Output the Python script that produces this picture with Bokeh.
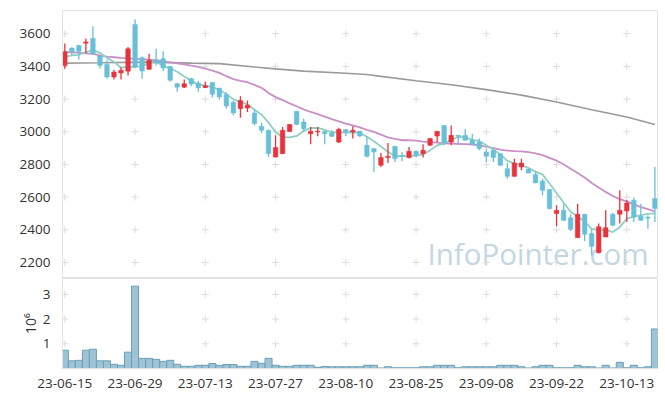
from bokeh.plotting import figure
from bokeh.layouts import column
from bokeh.models import Range1d, FixedTicker, ColumnDataSource
from bokeh.core.properties import value
from bokeh.embed import file_html
from bokeh.resources import INLINE

dates = ["23-06-15", "23-06-16", "23-06-19", "23-06-20", "23-06-21", "23-06-22", "23-06-23",
         "23-06-26", "23-06-27", "23-06-28", "23-06-29", "23-06-30",
         "23-07-03", "23-07-04", "23-07-05", "23-07-06", "23-07-07",
         "23-07-10", "23-07-11", "23-07-12", "23-07-13", "23-07-14",
         "23-07-17", "23-07-18", "23-07-19", "23-07-20", "23-07-21",
         "23-07-24", "23-07-25", "23-07-26", "23-07-27", "23-07-28", "23-07-31",
         "23-08-01", "23-08-02", "23-08-03", "23-08-04",
         "23-08-07", "23-08-08", "23-08-09", "23-08-10", "23-08-11",
         "23-08-14", "23-08-16", "23-08-17", "23-08-18",
         "23-08-21", "23-08-22", "23-08-23", "23-08-24", "23-08-25",
         "23-08-28", "23-08-29", "23-08-30", "23-08-31", "23-09-01",
         "23-09-04", "23-09-05", "23-09-06", "23-09-07", "23-09-08",
         "23-09-11", "23-09-12", "23-09-13", "23-09-14", "23-09-15",
         "23-09-18", "23-09-19", "23-09-20", "23-09-21", "23-09-22",
         "23-09-25", "23-09-26", "23-09-27",
         "23-10-04", "23-10-05", "23-10-06",
         "23-10-10", "23-10-11", "23-10-12", "23-10-13",
         "23-10-16", "23-10-17", "23-10-18", "23-10-19"]

opens = [3405, 3512, 3528, 3542, 3570, 3463, 3412, 3335, 3360, 3371,
         3657, 3453, 3382, 3441, 3447, 3400, 3294, 3273, 3325, 3298,
         3270, 3302, 3266, 3227, 3180, 3141, 3145, 3115, 3033, 3009,
         2845, 2866, 3001, 3125, 3060, 2988, 2999, 3003, 2993, 2937,
         3013, 2999, 3003, 2917, 2897, 2795, 2842, 2911, 2856, 2842,
         2880, 2866, 2917, 2974, 3039, 2937, 2978, 2978, 2948, 2937,
         2876, 2887, 2866, 2774, 2727, 2784, 2770, 2738, 2699, 2646,
         2499, 2520, 2473, 2352, 2495, 2377, 2259, 2356, 2495, 2495,
         2515, 2581, 2483, 2477, 2591]
highs = [3540, 3515, 3533, 3570, 3645, 3465, 3440, 3380, 3395, 3518,
         3688, 3460, 3478, 3508, 3492, 3402, 3298, 3320, 3330, 3312,
         3308, 3304, 3270, 3241, 3192, 3217, 3192, 3135, 3056, 3012,
         2978, 3029, 3047, 3127, 3080, 3029, 3029, 3005, 3009, 3025,
         3015, 3033, 3005, 2972, 2899, 2870, 2931, 2913, 2876, 2907,
         2887, 2923, 2962, 3005, 3041, 3039, 2980, 3019, 2988, 2958,
         2897, 2889, 2870, 2809, 2835, 2835, 2780, 2754, 2713, 2648,
         2550, 2560, 2495, 2560, 2497, 2407, 2438, 2520, 2503, 2642,
         2581, 2597, 2560, 2489, 2784]
lows = [3385, 3470, 3440, 3482, 3470, 3385, 3325, 3320, 3320, 3345,
        3395, 3325, 3380, 3406, 3370, 3308, 3245, 3268, 3278, 3245,
        3268, 3209, 3196, 3141, 3101, 3086, 3121, 3039, 2993, 2846,
        2842, 2864, 2999, 3040, 3000, 2923, 2972, 2923, 2968, 2931,
        2972, 2958, 2968, 2842, 2754, 2785, 2809, 2815, 2819, 2836,
        2842, 2842, 2915, 2937, 2917, 2917, 2921, 2946, 2917, 2887,
        2815, 2815, 2790, 2713, 2725, 2764, 2746, 2685, 2611, 2524,
        2422, 2456, 2393, 2350, 2332, 2244, 2257, 2354, 2422, 2438,
        2448, 2448, 2456, 2407, 2448]
closes = [3490, 3488, 3492, 3550, 3478, 3406, 3335, 3365, 3376, 3508,
          3396, 3372, 3437, 3420, 3390, 3315, 3273, 3294, 3292, 3268,
          3282, 3229, 3213, 3158, 3115, 3192, 3162, 3050, 3009, 2866,
          2903, 3009, 3045, 3045, 3019, 3003, 3003, 2988, 2972, 3015,
          2999, 3009, 2974, 2850, 2876, 2842, 2850, 2836, 2850, 2880,
          2856, 2887, 2958, 3003, 2931, 2978, 2972, 2948, 2923, 2897,
          2850, 2842, 2795, 2727, 2809, 2809, 2748, 2687, 2642, 2530,
          2519, 2458, 2403, 2495, 2373, 2299, 2418, 2413, 2428, 2520,
          2564, 2479, 2458, 2471, 2530]
volume_millions = [0.74, 0.31, 0.33, 0.74, 0.78, 0.31, 0.31, 0.17, 0.13, 0.66,
                   3.33, 0.41, 0.41, 0.37, 0.29, 0.33, 0.17, 0.09, 0.09, 0.13,
                   0.13, 0.20, 0.13, 0.16, 0.16, 0.09, 0.09, 0.29, 0.21, 0.41,
                   0.13, 0.09, 0.09, 0.13, 0.13, 0.13, 0.05, 0.08, 0.07, 0.07,
                   0.07, 0.07, 0.07, 0.13, 0.13, 0.02, 0.07, 0.03, 0.03, 0.03,
                   0.03, 0.07, 0.07, 0.13, 0.13, 0.13, 0.03, 0.07, 0.07, 0.07,
                   0.07, 0.07, 0.13, 0.13, 0.13, 0.07, 0.02, 0.07, 0.13, 0.13,
                   0.03, 0.03, 0.03, 0.13, 0.07, 0.07, 0.02, 0.13, 0.02, 0.25,
                   0.03, 0.13, 0.03, 0.07, 1.60]
ma5 = [3457, 3467, 3471, 3488, 3500, 3483, 3452, 3427, 3392, 3398,
       3396, 3403, 3418, 3427, 3403, 3387, 3367, 3338, 3313, 3288,
       3282, 3273, 3257, 3230, 3199, 3181, 3168, 3135, 3106, 3056,
       2998, 2967, 2966, 2974, 3004, 3024, 3023, 3012, 2997, 2996,
       2995, 2997, 2994, 2969, 2942, 2910, 2878, 2851, 2851, 2852,
       2854, 2862, 2886, 2917, 2927, 2951, 2968, 2966, 2950, 2944,
       2918, 2892, 2861, 2822, 2805, 2796, 2778, 2756, 2739, 2683,
       2625, 2567, 2510, 2481, 2450, 2406, 2398, 2400, 2386, 2416,
       2469, 2481, 2490, 2498, 2500]
ma20 = [3488, 3486, 3484, 3480, 3476, 3468, 3460, 3456, 3452, 3449,
        3447, 3444, 3441, 3436, 3430, 3424, 3418, 3412, 3405, 3397,
        3387, 3374, 3360, 3340, 3322, 3312, 3303, 3287, 3269, 3237,
        3212, 3194, 3174, 3156, 3137, 3121, 3108, 3093, 3077, 3064,
        3050, 3039, 3027, 3011, 2999, 2982, 2966, 2956, 2948, 2948,
        2946, 2940, 2936, 2934, 2929, 2928, 2926, 2924, 2922, 2916,
        2909, 2900, 2891, 2885, 2882, 2880, 2875, 2868, 2857, 2840,
        2823, 2801, 2774, 2748, 2720, 2686, 2659, 2632, 2607, 2588,
        2574, 2556, 2539, 2526, 2512]
# long moving average, read at selected trading days
ma_long_days = ["23-06-15", "23-06-22", "23-07-03", "23-07-11", "23-07-17", "23-07-24",
                "23-07-27", "23-08-02", "23-08-10", "23-08-16", "23-08-18", "23-08-25",
                "23-09-01", "23-09-08", "23-09-15", "23-09-22", "23-10-05", "23-10-13",
                "23-10-19"]
ma_long = [3420, 3422, 3426, 3420, 3417, 3396, 3385, 3371, 3358, 3350, 3339, 3312,
           3288, 3258, 3224, 3182, 3135, 3090, 3045]

price_ticks = [2200, 2400, 2600, 2800, 3000, 3200, 3400, 3600]
volume_ticks = [1, 2, 3]
date_tick_step = 10

FONT = "Open Sans"
UP, DOWN = "#e8333c", "#68bfd9"
TXT = "#333333"
LIGHT = "#e3e3e3"
CROSS = "#dcdcdc"

n = len(dates)
idx = list(range(n))
pos = {d: i for i, d in enumerate(dates)}
src = ColumnDataSource(dict(
    x=idx, h=highs, l=lows,
    top=[max(o, c) for o, c in zip(opens, closes)],
    bottom=[min(o, c) for o, c in zip(opens, closes)],
    color=[UP if c >= o else DOWN for o, c in zip(opens, closes)],
    vol=volume_millions, ma5=ma5, ma20=ma20))

x_ticks = list(range(0, n, date_tick_step))
xr = Range1d(-0.33, 84.37)


def style_axes(fig):
    for ax in fig.axis:
        ax.axis_line_color = LIGHT
        ax.major_tick_line_color = None
        ax.minor_tick_line_color = None
        ax.major_label_text_font = FONT
        ax.major_label_text_font_size = "13.5px"
        ax.major_label_text_color = TXT
    fig.xgrid.visible = False
    fig.ygrid.visible = False
    fig.outline_line_color = LIGHT


p = figure(width=658, height=278, x_range=xr, y_range=Range1d(2102, 3742),
           output_backend="svg", toolbar_location=None,
           min_border_left=62, min_border_right=1, min_border_top=10, min_border_bottom=0)
style_axes(p)
p.xaxis.visible = False
p.yaxis.ticker = FixedTicker(ticks=price_ticks)
p.yaxis.major_label_standoff = 6

# watermark, drawn first so that the candles lie over it
p.text(x=[83.1], y=[2252], text=["InfoPointer.com"], text_font=value(FONT),
       text_font_size="29.5px", text_color="#c3d6e1", text_align="right",
       text_baseline="middle")

p.scatter([tx for tx in x_ticks for ty in price_ticks],
          [ty for tx in x_ticks for ty in price_ticks],
          marker="cross", size=7, line_color=CROSS, line_width=1)

p.line([pos[d] for d in ma_long_days], ma_long, line_color="#9a9a9a", line_width=1.6)
p.line("x", "ma20", source=src, line_color="#c98fc6", line_width=1.8)
p.line("x", "ma5", source=src, line_color="#8fd0c2", line_width=1.8)

p.segment("x", "h", "x", "l", source=src, line_color="color", line_width=1.3)
p.vbar(x="x", top="top", bottom="bottom", width=0.65, source=src,
       fill_color="color", line_color="color", line_width=0.5)

v = figure(width=658, height=112, x_range=xr, y_range=Range1d(0, 3.64),
           output_backend="svg", toolbar_location=None,
           min_border_left=62, min_border_right=1, min_border_top=0, min_border_bottom=22)
style_axes(v)
v.xaxis.ticker = FixedTicker(ticks=x_ticks)
v.xaxis.major_label_overrides = {i: dates[i] for i in x_ticks}
v.xaxis.major_label_standoff = 4
v.yaxis.ticker = FixedTicker(ticks=volume_ticks)
v.yaxis.major_label_standoff = 6
v.yaxis.axis_label = "10\u2076"
v.yaxis.axis_label_text_font = FONT
v.yaxis.axis_label_text_font_size = "14px"
v.yaxis.axis_label_text_font_style = "normal"
v.yaxis.axis_label_text_color = TXT
v.yaxis.axis_label_standoff = 0

v.scatter([tx for tx in x_ticks for ty in volume_ticks],
          [ty for tx in x_ticks for ty in volume_ticks],
          marker="cross", size=7, line_color=CROSS, line_width=1)
v.vbar(x="x", top="vol", bottom=0, width=1.0, source=src,
       fill_color="#9dc3d4", line_color="#6a9fb7", line_width=1)

layout = column(p, v)
open("out.html", "w").write(file_html(layout, INLINE))
